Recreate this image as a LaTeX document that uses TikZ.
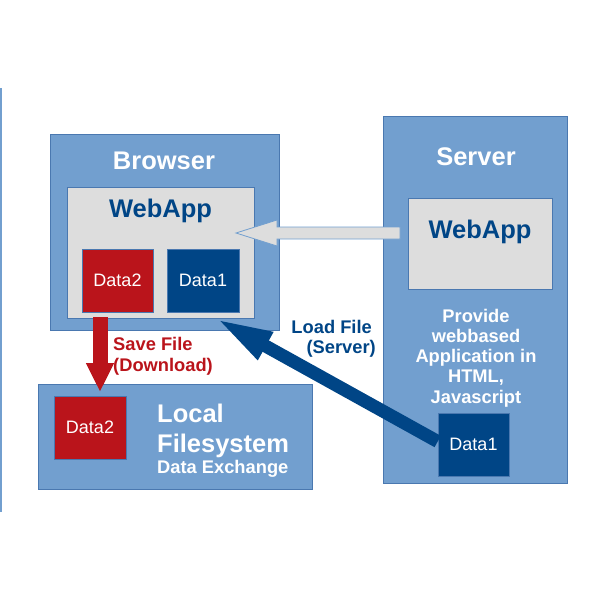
\documentclass[tikz,border=0pt]{standalone}
\usepackage{fontspec}
\setmainfont{Liberation Sans}
\usetikzlibrary{arrows.meta}
\definecolor{boxblue}{HTML}{729FCF}
\definecolor{edgeblue}{HTML}{4A78B0}
\definecolor{appgray}{HTML}{DDDDDD}
\definecolor{darkblue}{HTML}{004586}
\definecolor{darkred}{HTML}{BA141B}
\begin{document}
\begin{tikzpicture}[x=1pt,y=-1pt,
  panel/.style={draw=edgeblue, line width=0.8pt, fill=boxblue, inner sep=0pt},
  app/.style={draw=edgeblue, line width=0.8pt, fill=appgray, inner sep=0pt},
  datab/.style={draw=edgeblue, line width=0.6pt, inner sep=0pt, text=white, font=\fontsize{18}{20}\selectfont},
  title/.style={text=white, font=\bfseries\fontsize{25.5}{29}\selectfont, inner sep=0pt, anchor=base},
  apptitle/.style={text=darkblue, font=\bfseries\fontsize{25.5}{29}\selectfont, inner sep=0pt, anchor=base},
  wlabel/.style={text=white, font=\bfseries\fontsize{18.3}{20}\selectfont, inner sep=0pt, anchor=base},
  rlabel/.style={text=darkred, font=\bfseries\fontsize{18.3}{20}\selectfont, inner sep=0pt, anchor=base west},
  blabel/.style={text=darkblue, font=\bfseries\fontsize{18.3}{20}\selectfont, inner sep=0pt, anchor=base east},
  redarrow/.style={draw=darkred, line width=15pt, -{Triangle[width=26pt,length=29pt]}},
  bluearrow/.style={draw=darkblue, line width=13pt, -{Triangle[width=28pt,length=58pt]}},
  grayarrow/.style={draw=boxblue, line width=0.8pt, fill=appgray}
]
\useasboundingbox (0,0) rectangle (600,600);
\draw[boxblue, line width=1.5pt] (1,88) -- (1,512);

% Browser
\node[panel, minimum width=229pt, minimum height=196pt] (browser) at (164.5,232) {};
\node[title] (browsert) at (164,169) {Browser};
\node[app, minimum width=187pt, minimum height=131pt] (bapp) at (160.5,252.5) {};
\node[apptitle] (bappt) at (160.5,217) {WebApp};
\node[datab, fill=darkred, minimum width=71pt, minimum height=63pt] (bdata2) at (117.5,280.5) {Data2};
\node[datab, fill=darkblue, minimum width=72pt, minimum height=63pt] (bdata1) at (203,280.5) {Data1};

% Server
\node[panel, minimum width=184pt, minimum height=367pt] (server) at (475,299.5) {};
\node[title] (servert) at (476,165) {Server};
\node[app, minimum width=144pt, minimum height=91pt] (sapp) at (480,243.5) {};
\node[apptitle] (sappt) at (480,238) {WebApp};
\node[wlabel] (p1) at (476,322) {Provide};
\node[wlabel] (p2) at (476,342.25) {webbased};
\node[wlabel] (p3) at (476,362.5) {Application in};
\node[wlabel] (p4) at (476,382.75) {HTML,};
\node[wlabel] (p5) at (476,403) {Javascript};
\node[datab, fill=darkblue, minimum width=71pt, minimum height=63pt] (sdata1) at (473.5,444.5) {Data1};

% Local filesystem
\node[panel, minimum width=274pt, minimum height=105pt] (local) at (175,436.5) {};
\node[datab, fill=darkred, minimum width=72pt, minimum height=63pt] (ldata2) at (90,427.5) {Data2};
\node[title, anchor=base west] (l1) at (157,422) {Local};
\node[title, anchor=base west] (l2) at (157,452) {Filesystem};
\node[wlabel, anchor=base west] (l3) at (157,473) {Data Exchange};

% Gray arrow (server app -> browser app)
\draw[grayarrow] (400,227) -- (277,227) -- (277,220) -- (236,233) -- (277,246) -- (277,239) -- (400,239) -- cycle;

% Red arrow: save file
\coordinate (rs) at (100,317);
\coordinate (re) at (100,392);
\draw[redarrow] (rs) -- (re);
\node[rlabel] (save1) at (113,350) {Save File};
\node[rlabel] (save2) at (113,371) {(Download)};

% Blue arrow: load file
\coordinate (lt) at (215,318);
\draw[bluearrow] ([yshift=3pt]sdata1.west) -- (lt);
\node[blabel] (load1) at (372,333) {Load File};
\node[blabel] (load2) at (376,353) {(Server)};
\end{tikzpicture}
\end{document}
